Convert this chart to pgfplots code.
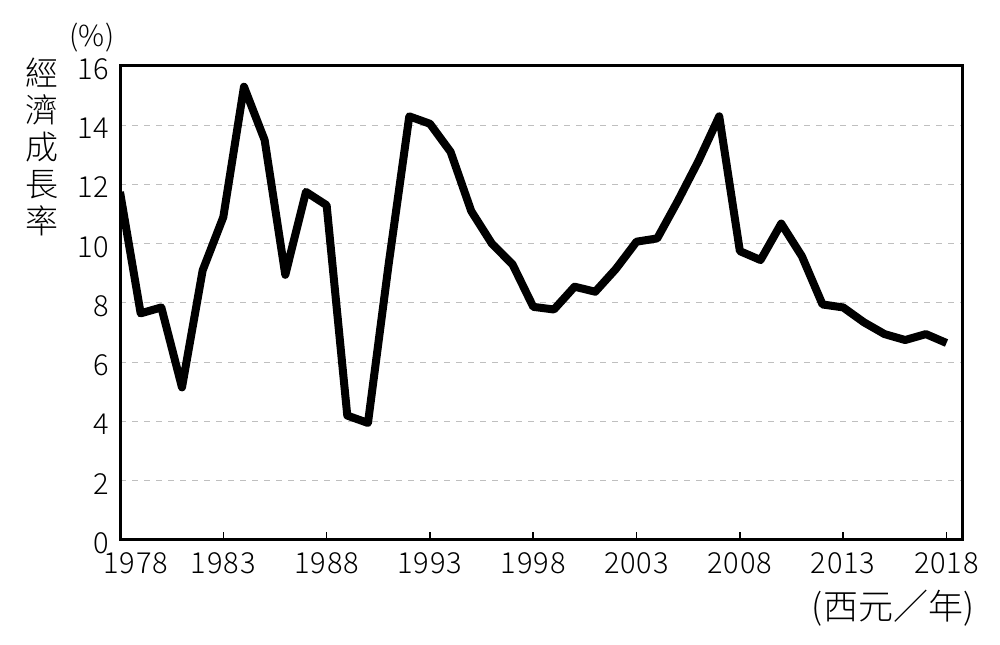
\documentclass[border=0pt]{standalone}
\usepackage{fontspec}
\setmainfont{Noto Sans CJK TC}[UprightFont=* Light]
\newfontfamily\tickfont{Noto Sans CJK TC}[UprightFont=* Light, LetterSpace=3]
\usepackage{pgfplots}
\pgfplotsset{compat=1.18}
\begin{document}
\begin{tikzpicture}
\begin{axis}[
  scale only axis, width=421pt, height=237pt,
  xmin=1978, xmax=2018.75, ymin=0, ymax=16,
  xtick={1978,1983,...,2018}, ytick={0,2,...,16},
  xticklabels={\hphantom{00}1978,1983,1988,1993,1998,2003,2008,2013,2018},
  /pgf/number format/assume math mode=true,
  /pgf/number format/1000 sep={},
  tick label style={font=\tickfont\fontsize{14.5}{14.5}\selectfont},
  axis line style={line width=1.5pt, black},
  xtick pos=bottom, ytick pos=left, tick align=inside,
  major tick length=4pt,
  x tick style={line width=0.8pt, black},
  y tick style={draw=none},
  ymajorgrids,
  grid style={dash pattern=on 3pt off 3pt, black!25, line width=0.5pt},
  yticklabel style={xshift=-2pt, yshift=-1.5pt},
  xticklabel style={yshift=-3pt},
]
\addplot[black, line width=4pt, mark=none, line join=round] coordinates {
(1978,11.75) (1979,7.65) (1980,7.85) (1981,5.15) (1982,9.1) (1983,10.9)
(1984,15.3) (1985,13.5) (1986,8.95) (1987,11.75) (1988,11.3) (1989,4.2)
(1990,3.95) (1991,9.3) (1992,14.3) (1993,14.05) (1994,13.1) (1995,11.1)
(1996,10.0) (1997,9.3) (1998,7.87) (1999,7.78) (2000,8.55) (2001,8.38)
(2002,9.15) (2003,10.07) (2004,10.18) (2005,11.45) (2006,12.8) (2007,14.3)
(2008,9.75) (2009,9.45) (2010,10.68) (2011,9.58) (2012,7.95) (2013,7.85)
(2014,7.35) (2015,6.95) (2016,6.75) (2017,6.95) (2018,6.65)
};
\coordinate (SW) at (rel axis cs:0,0);
\coordinate (NE) at (rel axis cs:1,1);
\coordinate (NW) at (rel axis cs:0,1);
\coordinate (SE) at (rel axis cs:1,0);
\end{axis}
\node[align=center, inner sep=0pt, font=\fontsize{16.5}{18.5}\selectfont]
  at ([xshift=-39pt, yshift=-40.5pt]NW) {經\\濟\\成\\長\\率};
\node[inner sep=0pt, font=\fontsize{14.5}{14.5}\selectfont]
  at ([xshift=-14pt, yshift=14pt]NW) {(\%)};
\node[inner sep=0pt, font=\fontsize{17.5}{17.5}\selectfont]
  at ([xshift=-34.5pt, yshift=-34pt]SE) {(西元／年)};
\pgfresetboundingbox
\useasboundingbox ([xshift=-60pt, yshift=-52.5pt]SW) rectangle ([xshift=19pt, yshift=33pt]NE);
\end{tikzpicture}
\end{document}
